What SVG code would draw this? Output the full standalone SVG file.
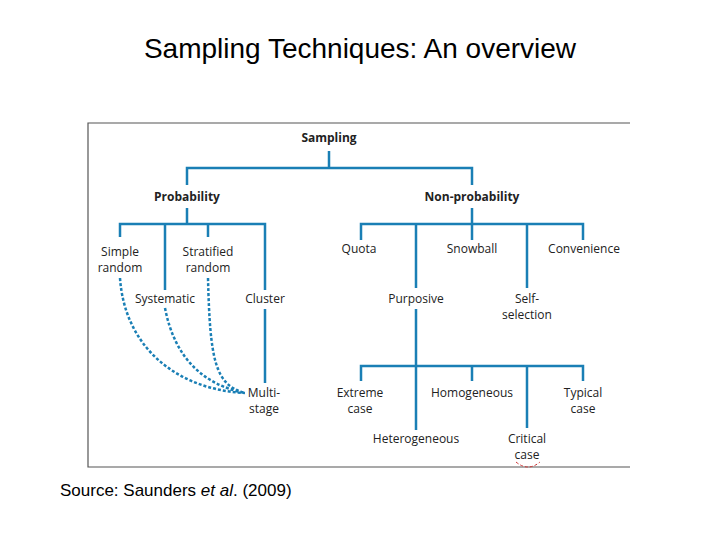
<svg xmlns="http://www.w3.org/2000/svg" width="720" height="540" viewBox="0 0 720 540">
<style>
.t{font-family:"Open Sans","Liberation Sans",sans-serif;font-size:12px;fill:#222;text-anchor:middle}
.b{font-weight:bold}
.l{stroke:#1a7fb5;stroke-width:2.5;fill:none}
.d{stroke:#1a7fb5;stroke-width:2.5;fill:none;stroke-dasharray:3 2}
</style>
<rect width="720" height="540" fill="#fff"/>
<text x="360" y="58" font-family="Liberation Sans,sans-serif" font-size="28" text-anchor="middle">Sampling Techniques: An overview</text>
<path d="M630,123H88V467H630" stroke="#555" stroke-width="1.2" fill="none"/>
<path d="M516,462 Q528,472 540,462" stroke="#c33" stroke-width="1" stroke-dasharray="3 2" fill="none"/>
<g id="connectors">
<path class="l" d="M329,151V168M187,185V168H472V185"/>
<path class="l" d="M187,208V224M120,237V224H265V290M165,224V290M208,224V237M265,309V383"/>
<path class="l" d="M472,208V240M361,240V224H583V240M416,224V288M527,224V288M416,309V430M361,381V366H583V381M472,366V381M527,366V428"/>
<path class="d" d="M120,278C125,350 180,390 245,393M165,308C175,360 205,385 245,393M208,278C210,360 215,385 245,393"/>
</g>
<g id="sampling"><text class="t b" x="329" y="142">Sampling</text></g>
<g id="probability"><text class="t b" x="187" y="201">Probability</text></g>
<g id="nonprob"><text class="t b" x="472" y="201">Non-probability</text></g>
<g id="simple"><text class="t" x="120" y="256">Simple</text><text class="t" x="120" y="272">random</text></g>
<g id="stratified"><text class="t" x="208" y="256">Stratified</text><text class="t" x="208" y="272">random</text></g>
<g id="systematic"><text class="t" x="165" y="303">Systematic</text></g>
<g id="cluster"><text class="t" x="265" y="303">Cluster</text></g>
<g id="multistage"><text class="t" x="264" y="397">Multi-</text><text class="t" x="264" y="413">stage</text></g>
<g id="quota"><text class="t" x="359" y="253">Quota</text></g>
<g id="snowball"><text class="t" x="472" y="253">Snowball</text></g>
<g id="convenience"><text class="t" x="584" y="253">Convenience</text></g>
<g id="purposive"><text class="t" x="416" y="303">Purposive</text></g>
<g id="self"><text class="t" x="527" y="303">Self-</text><text class="t" x="527" y="319">selection</text></g>
<g id="extreme"><text class="t" x="360" y="397">Extreme</text><text class="t" x="360" y="413">case</text></g>
<g id="homogeneous"><text class="t" x="472" y="397">Homogeneous</text></g>
<g id="typical"><text class="t" x="583" y="397">Typical</text><text class="t" x="583" y="413">case</text></g>
<g id="heterogeneous"><text class="t" x="416" y="443">Heterogeneous</text></g>
<g id="critical"><text class="t" x="527" y="443">Critical</text><text class="t" x="527" y="459">case</text></g>
<text x="60" y="496" font-family="Liberation Sans,sans-serif" font-size="17">Source: Saunders <tspan font-style="italic">et al</tspan>. (2009)</text>
</svg>
